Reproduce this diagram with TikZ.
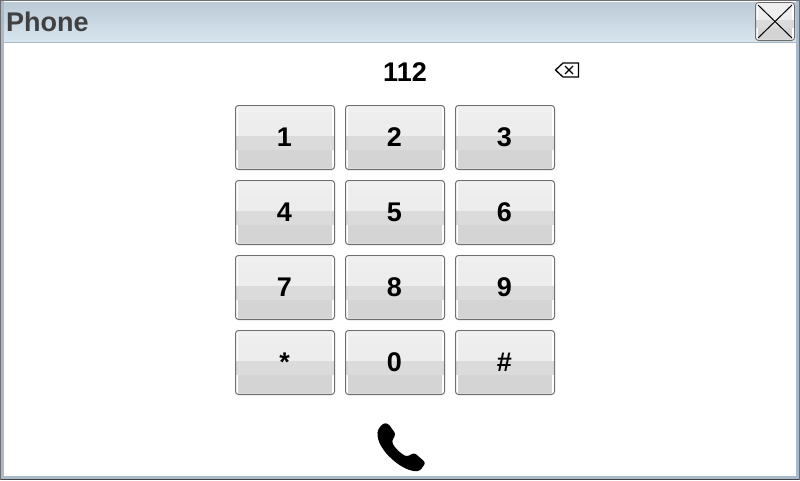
\documentclass[tikz,border=0pt]{standalone}
\usepackage{fontspec}
\setmainfont{Liberation Sans}
\definecolor{edgeA}{HTML}{6E6E6E}
\definecolor{frameB}{HTML}{A9BBCB}
\definecolor{barTop}{HTML}{BCCAD6}
\definecolor{barBot}{HTML}{D8E6F0}
\definecolor{titleC}{HTML}{404040}
\newcommand{\keybody}[4]{%
  % x y w h
  \begin{scope}
    \clip[rounded corners=3pt] (#1,#2) rectangle ++(#3,#4);
    \fill[white] (#1,#2) rectangle ++(#3,#4);
    \fill[black!6] (#1+3,#2+2) rectangle ++(#3-6,5);
    \fill[green!3!black!7] (#1+3,#2+7) rectangle ++(#3-6,8);
    \fill[black!7] (#1+3,#2+15) rectangle ++(#3-6,#4*0.5-17);
    \fill[black!14] (#1,#2+#4*0.5-2) rectangle ++(#3,#4*0.22);
    \fill[black!17] (#1+3,#2+#4*0.5-2+#4*0.22) rectangle ++(#3-6,#4*0.28);
    \fill[black!14] (#1+3,#2+#4-2) rectangle ++(#3-6,1);
  \end{scope}
  \draw[edgeA,line width=1pt,rounded corners=3pt] (#1+.5,#2+.5) rectangle ++(#3-1,#4-1);
}
\tikzset{keylabel/.style={font=\bfseries\fontsize{27}{27}\selectfont,inner sep=0pt,anchor=center,text=black}}
\begin{document}
\begin{tikzpicture}[x=1pt,y=-1pt]
\useasboundingbox (0,0) rectangle (800,480);
\fill[white] (0,0) rectangle (800,480);
% window frame
\fill[frameB] (0,0) rectangle (4,480);
\fill[frameB] (796,0) rectangle (800,480);
\fill[frameB] (0,476) rectangle (800,480);
\fill[white] (5,43) rectangle (795,475);
\fill[edgeA!60!black] (0,479) rectangle (800,480);
\fill[edgeA] (0,0) rectangle (800,1);
\fill[edgeA] (0,0) rectangle (1,480);
\fill[edgeA] (799,0) rectangle (800,480);
% title bar
\shade[top color=barTop,bottom color=barBot] (4,2) rectangle (796,42);
\fill[frameB] (4,42) rectangle (796,43);
\node[font=\bfseries\fontsize{27}{27}\selectfont,text=titleC,inner sep=0pt,anchor=base west] (title) at (6,31) {Phone};
% close button
\keybody{755}{2}{40}{39}
\draw[black,line width=1pt] (758,5) -- (792,38) (792,5) -- (758,38);
% number
\node[keylabel] (number) at (405,72.5) {112};
% backspace icon
\draw[black,line width=1.3pt,line join=miter] (578.5,63) -- (563,63) -- (555.5,70) -- (563,77) -- (578.5,77) -- cycle;
\draw[black,line width=1.3pt] (565,66) -- (573,74) (573,66) -- (565,74);
% keys
\foreach \lab [count=\i from 0] in {1,2,3,4,5,6,7,8,9,*,0,\#}{
  \pgfmathtruncatemacro{\col}{mod(\i,3)}
  \pgfmathtruncatemacro{\row}{div(\i,3)}
  \pgfmathsetmacro{\kx}{235+110*\col}
  \pgfmathsetmacro{\ky}{105+75*\row}
  \keybody{\kx}{\ky}{100}{65}
  \node[keylabel] (key\i) at (\kx+49.5,\ky+32) {\lab};
}
% call icon
\fill[black,rounded corners=2.5pt] (383,423.3) -- (388,423.3) -- (395.7,434) -- (391.7,441.7)
  .. controls (395,448) and (400,453) .. (406.7,456.7)
  -- (414.3,452.7) -- (425.7,462.7) -- (420,470.7)
  .. controls (404,473) and (376,450) .. (377.7,430) -- cycle;
\end{tikzpicture}
\end{document}
